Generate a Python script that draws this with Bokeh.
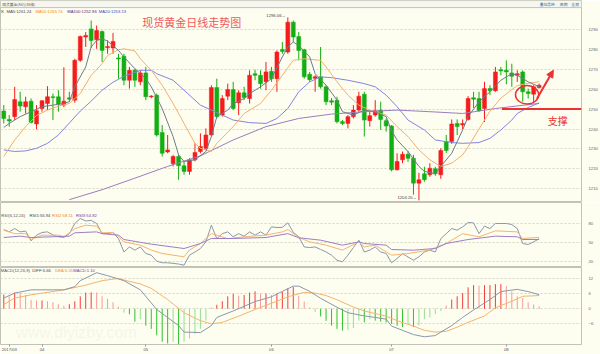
from bokeh.plotting import figure
from bokeh.models import Range1d, FixedTicker, Arrow, NormalHead, ColumnDataSource
from bokeh.layouts import column
from bokeh.embed import file_html
from bokeh.resources import INLINE
from bokeh.core.properties import value

# ---------------- data ----------------
opens = [1249.0,1244.8,1246.2,1253.7,1251.2,1254.0,1242.5,1250.3,1252.8,1256.2,
         1256.2,1252.0,1255.7,1254.5,1274.5,1286.2,1290.3,1284.8,1289.0,1280.8,
         1280.7,1275.7,1276.5,1264.5,1269.5,1263.7,1268.2,1256.2,1257.0,1238.3,
         1228.5,1222.5,1226.2,1221.5,1218.7,1224.5,1228.7,1230.3,1237.0,1260.8,
         1247.0,1256.5,1259.8,1253.2,1258.2,1255.3,1267.8,1267.0,1263.7,1269.0,
         1265.3,1280.0,1278.7,1293.7,1286.5,1279.8,1267.5,1265.5,1266.2,1261.2,
         1254.2,1254.5,1243.7,1242.8,1246.2,1249.5,1257.5,1244.2,1247.0,1249.5,
         1244.2,1241.5,1219.5,1224.5,1227.3,1225.3,1212.8,1217.5,1217.0,1220.0,
         1217.0,1233.7,1233.7,1242.8,1242.0,1244.8,1255.7,1255.3,1250.3,1260.3,
         1259.2,1269.8,1269.5,1268.2,1267.0,1268.7,1258.7,1257.5,1260.8]
closes = [1245.3,1244.0,1254.8,1251.5,1253.7,1243.3,1249.2,1254.2,1256.2,1255.8,
          1252.5,1254.0,1255.0,1274.5,1286.5,1287.0,1284.5,1289.5,1279.5,1281.5,
          1284.0,1275.2,1264.5,1269.5,1264.5,1268.2,1256.2,1256.5,1237.0,1227.8,
          1229.5,1226.2,1221.5,1218.7,1224.5,1228.2,1231.2,1237.0,1260.8,1246.2,
          1255.3,1259.8,1250.3,1258.2,1255.8,1267.0,1267.0,1262.8,1268.7,1265.3,
          1278.7,1279.0,1293.7,1286.2,1279.5,1266.2,1264.8,1266.2,1261.2,1253.7,
          1253.5,1243.7,1242.8,1246.2,1249.5,1256.5,1244.5,1246.7,1249.2,1244.8,
          1241.5,1219.5,1223.7,1227.3,1225.3,1212.8,1214.5,1214.5,1220.3,1217.5,
          1229.2,1229.2,1242.5,1241.2,1242.8,1255.3,1255.0,1249.2,1260.3,1259.2,
          1268.7,1269.2,1268.7,1266.5,1267.8,1258.7,1257.8,1261.2,1262.0]
highs = [1252.0,1247.0,1261.2,1258.7,1256.2,1255.3,1252.0,1254.5,1261.5,1257.8,
         1259.5,1271.0,1258.7,1275.3,1287.0,1288.7,1294.5,1292.0,1289.5,1284.5,
         1288.3,1277.8,1277.8,1271.2,1270.3,1269.5,1271.2,1257.0,1257.8,1242.0,
         1237.0,1227.0,1227.0,1223.7,1225.3,1232.8,1237.8,1240.3,1262.0,1265.3,
         1257.0,1262.8,1263.7,1259.5,1261.2,1269.5,1269.8,1269.5,1273.7,1271.2,
         1279.5,1283.7,1296.06,1294.5,1288.7,1280.3,1268.7,1267.0,1281.2,1262.0,
         1255.5,1256.2,1244.5,1247.0,1252.0,1258.7,1258.7,1248.7,1254.5,1253.7,
         1245.3,1242.0,1227.8,1228.7,1229.0,1227.0,1218.0,1221.0,1222.8,1221.0,
         1230.3,1237.0,1244.8,1244.8,1244.8,1256.5,1258.7,1258.7,1263.7,1262.0,
         1271.2,1271.2,1274.5,1272.8,1269.5,1269.5,1260.3,1262.0,1262.8]
lows = [1242.8,1241.2,1244.5,1248.7,1247.8,1242.8,1239.8,1248.7,1249.5,1244.5,
        1248.7,1251.0,1253.7,1253.2,1273.7,1281.2,1280.8,1280.3,1273.7,1277.8,
        1277.8,1265.3,1262.0,1260.3,1261.2,1262.0,1254.5,1255.5,1236.2,1226.2,
        1227.8,1221.2,1214.5,1217.0,1217.0,1223.7,1227.8,1229.5,1236.2,1245.3,
        1246.2,1254.5,1249.5,1247.0,1254.5,1252.8,1264.5,1260.3,1259.5,1263.7,
        1258.7,1277.8,1277.8,1283.7,1274.5,1265.3,1263.7,1258.7,1260.3,1252.0,
        1252.0,1242.8,1242.0,1240.3,1245.3,1248.7,1236.2,1241.2,1246.2,1239.5,
        1238.7,1218.7,1219.2,1222.8,1223.5,1207.0,1204.2,1213.5,1216.0,1216.5,
        1215.0,1228.0,1232.5,1237.0,1240.0,1244.2,1250.5,1248.7,1243.5,1257.0,
        1258.7,1267.0,1262.5,1261.2,1263.7,1253.7,1255.3,1252.8,1260.3]

ma5_idx = [0,1,3,5,7,9,11,12,13,15,16,17,18,19,21,22,24,25,26,27,29,31,32,33,35,37,38,39,41,42,
           44,45,47,49,51,52,53,54,56,57,59,61,62,64,66,68,70,71,72,74,76,77,79,80,82,84,85,87,89,91,
           93,94,96,98]
ma5_val = [1240.8,1242.8,1246.2,1248.7,1251.2,1252.0,1252.8,1253.7,1261.2,1271.2,1281.2,1284.5,1285.3,1284.2,
           1279.5,1276.2,1270.3,1267.8,1265.3,1261.2,1250.3,1236.2,1227.0,1223.7,1224.5,1228.7,1236.2,1246.2,
           1249.5,1252.8,1255.3,1257.8,1261.2,1265.3,1276.2,1281.2,1283.7,1282.0,1276.2,1267.8,1262.0,1254.5,
           1248.7,1247.0,1249.5,1248.7,1246.2,1239.0,1234.5,1228.7,1221.2,1218.7,1217.5,1221.2,1227.8,1239.5,
           1246.2,1253.7,1258.7,1264.5,1267.8,1267.0,1263.7,1261.24]
ma10_idx = [0,2,4,6,8,10,12,14,16,18,19,21,22,24,25,27,29,31,33,35,36,38,39,42,44,47,49,51,53,55,
            58,59,61,63,65,67,70,72,74,76,78,80,82,84,85,87,89,91,93,94,96,98]
ma10_val = [1226.2,1234.5,1241.2,1246.8,1249.5,1251.5,1252.8,1257.8,1267.0,1272.8,1277.0,1279.8,1280.3,
            1279.2,1275.3,1269.5,1262.0,1252.8,1242.8,1232.8,1230.3,1228.7,1232.8,1241.2,1247.8,1252.8,
            1259.5,1267.0,1274.5,1275.3,1274.5,1271.2,1263.7,1257.0,1252.0,1249.5,1247.0,1241.2,1236.2,
            1229.5,1224.5,1221.2,1222.8,1227.0,1231.0,1240.0,1249.0,1255.5,1259.8,1261.8,1263.0,1263.74]
ma20_idx = [0,2,4,6,8,10,12,14,16,18,20,22,25,27,28,31,33,36,38,40,42,45,48,50,52,54,56,58,60,63,
            66,68,70,72,74,77,79,82,84,87,89,91,93,94,96,98]
ma20_val = [1229.5,1228.7,1229.0,1230.3,1232.8,1237.0,1243.0,1249.0,1254.0,1259.5,1263.5,1266.5,1269.5,
            1269.5,1267.8,1264.5,1259.5,1252.0,1249.5,1247.0,1244.5,1243.2,1242.8,1245.3,1250.3,1258.7,
            1263.7,1266.2,1265.8,1264.5,1262.8,1261.2,1257.0,1251.2,1244.5,1239.5,1234.5,1233.2,1232.8,
            1233.2,1235.3,1239.5,1244.5,1247.8,1250.8,1253.13]
ma100_idx = [12,18,24,30,36,42,48,54,60,66,72,78,84,90,98]
ma100_val = [1204.5,1209.5,1215.3,1221.2,1226.5,1234.5,1241.2,1245.3,1247.5,1248.7,1249.5,1248.7,
             1247.8,1250.3,1252.86]

rsi1 = [70.5,66.8,72,66.8,68,52.6,61.6,65.8,66.8,62,59,58,64,80,88,84,85,80,64,64,65.8,56,35,43,38,43,
        32.6,30,20.5,18,18,17,16,14.2,30,35,40.5,51,77.4,56,64,66.8,59,64,60,66.8,61.6,66.8,61.6,74.7,
        73.7,74,81,66,
        59,43,42,43,39,35,30,22,19.5,30,42,53.7,35,38,43,35,32.6,18,24.7,32.6,27,22,27.4,35,38,35,56,
        64,72,69.5,74.7,81.6,81,64,75.8,72,80,80,80,78.4,72,48.4,46.8,51,55.94]
rsi2_idx = [0,2,4,5,7,10,11,13,15,17,18,20,21,22,25,27,29,33,34,36,38,41,44,48,51,52,54,56,59,62,
            65,66,68,71,74,78,79,81,84,87,90,94,95,98]
rsi2_val = [69.5,64,64,54.7,61.6,61.6,59,72,77.4,75.8,65.3,65.8,59,51,45.8,38,32.6,27.4,38,48.4,
            64,56,59,61.6,66.8,70.5,58,51,45.8,38,51,43,45.8,30,32.6,38,42,48.4,64,59,68.4,66.8,56.3,58.11]
rsi3_idx = [0,3,5,12,13,17,18,21,22,27,33,36,38,42,48,52,54,58,62,65,66,70,71,75,79,81,85,90,94,95,98]
rsi3_val = [57.9,60,57.9,60,65.3,66.8,64,61.6,54.7,47.4,40.5,48.4,56.3,56.3,57.9,64,57.5,53.7,45.8,51,
            48.4,45.8,38.9,37.9,40.5,48.4,54.7,60,59,54.7,54.82]

diff_idx = [0,2,5,11,13,14,17,19,22,25,28,32,33,36,38,39,42,43,46,49,51,53,54,56,58,61,63,66,68,70,
            71,73,75,77,79,80,82,84,86,89,91,94,96,98]
diff_val = [4.3,6.3,7.6,7.6,8.9,11.3,14.5,13.3,11.3,7.6,-0.3,-6.8,-9.4,-9.6,-6.8,-3.5,-0.9,0.0,2.9,4.8,
            7.0,9.1,9.1,7.0,4.2,0.6,-1.6,-2.9,-3.5,-4.2,-7.0,-8.7,-10.4,-11.3,-10.8,-9.4,-6.8,-3.5,-0.5,
            3.7,6.9,7.8,6.9,5.66]
dea_idx = [0,2,5,11,15,18,21,23,25,27,30,33,36,38,40,43,46,49,52,55,57,59,61,64,66,70,72,75,77,79,
           81,83,85,88,90,93,95,98]
dea_val = [1.7,4.3,5.6,7.6,9.5,11.3,12.2,11.0,10.0,8.2,3.7,-1.6,-4.8,-6.1,-5.5,-3.0,-0.3,2.2,4.8,6.6,
           6.3,5.3,3.6,0.7,-0.9,-3.0,-4.8,-7.0,-8.7,-9.4,-9.1,-7.4,-5.5,-2.9,0.4,3.0,5.0,5.31]
macd_hist = [5.7,5.0,6.5,6.3,5.5,3.5,3.3,3.3,3.0,2.6,1.8,1.2,1.8,3.0,5.0,6.5,6.6,6.5,5.0,4.0,2.6,0.8,
             -1.6,-2.2,-5.2,-4.2,-6.8,-8.1,-10.7,-13.3,-14.0,-13.3,-14.3,-13.3,-12.0,-10.0,-8.1,-4.8,
             0.5,1.6,3.0,5.0,6.0,5.2,
             5.5,6.5,7.0,6.1,6.1,5.5,6.1,6.8,8.3,8.7,5.2,2.9,0.5,
             -1.3,-3.1,-4.9,-6.8,-8.1,-8.8,-8.6,-7.8,
             -4.8,-5.5,-4.2,-4.8,-5.2,-5.5,-6.1,-6.8,-7.4,-6.1,-7.4,-6.8,-4.2,-3.5,-2.2,-0.9,
             1.3,3.7,5.0,6.3,8.6,9.5,9.3,9.5,9.5,9.9,9.9,9.1,6.9,5.0,4.3,2.6,1.7,1.0]

price_ticks = [1210, 1220, 1230, 1240, 1250, 1260, 1270, 1280, 1290]
rsi_ticks = [20, 50, 80]
macd_ticks = [-6, 0, 6, 12]
month_ticks = [1, 7, 26, 49, 71, 92]
month_labels = ["2017/03", "04", "05", "06", "07", "08"]

SUPPORT_LEVEL = 1250.0
HIGH_LABEL = "1296.06"
LOW_LABEL = "1204.20"

# ---------------- styling ----------------
BG = "#fdfdf0"
UP = "#f41c1c"
DOWN = "#13ae13"
GRID = "#d6d6c6"
FRAME = "#c2c2b6"
C_MA5 = "#6e7c8c"
C_MA10 = "#f4b06a"
C_MA20 = "#8484e2"
C_MA100 = "#9c7cbc"
C_GRAY = "#8a98a8"
RED = "#ee3030"
LAT = "Liberation Sans"
CJK = "Noto Sans CJK SC"

N = len(closes)
idx = list(range(N))
X0, X1 = -0.6, 105.76
x_range = Range1d(X0, X1)


def panel(height, y_range, ticks, xaxis=False, bottom=0):
    p = figure(width=600, height=height, x_range=x_range, y_range=y_range,
               toolbar_location=None, output_backend="svg",
               x_axis_location="below" if xaxis else None, y_axis_location="right",
               min_border_left=0, min_border_right=15, min_border_top=0,
               min_border_bottom=bottom,
               background_fill_color=BG, border_fill_color=BG,
               outline_line_color=FRAME)
    p.xgrid.visible = False
    p.ygrid.ticker = FixedTicker(ticks=ticks)
    p.ygrid.grid_line_color = GRID
    p.ygrid.grid_line_dash = "2 2"
    ax = p.yaxis[0]
    ax.ticker = FixedTicker(ticks=ticks)
    ax.axis_line_color = None
    ax.major_tick_line_color = None
    ax.minor_tick_line_color = None
    ax.major_label_text_font_size = "4.2px"
    ax.major_label_text_color = "#666666"
    ax.major_label_standoff = 1
    ax.major_label_text_font = LAT
    return p


def txt(p, x, y, s, color, size, align="left", font=LAT):
    p.text(x=[x], y=[y], text=[s], text_color=color, text_font_size=size,
           text_align=align, text_baseline="middle", text_font=value(font))


# ---------------- main price panel (with header strip on top) ----------------
Y_TOP = 1304.57
HEAD_BOTTOM = 1301.0
main = panel(202, Range1d(1203.07, Y_TOP), price_ticks)

# header strip
main.quad(left=[X0], right=[X1], bottom=[HEAD_BOTTOM], top=[Y_TOP],
          fill_color="#f6f6f0", line_color=None)
main.segment(x0=[X0], y0=[HEAD_BOTTOM], x1=[X1], y1=[HEAD_BOTTOM],
             line_color=FRAME, line_width=1)
head_y = 1302.7
txt(main, -0.3, head_y, "现货黄金(AU)(日线)", "#555555", "3.8px", font=CJK)
txt(main, 98.1, head_y, "叠加品种", "#3a6ea5", "3.8px", font=CJK)
txt(main, 101.8, head_y, "周期", "#3a6ea5", "3.8px", font=CJK)
txt(main, 103.9, head_y, "全屏", "#3a6ea5", "3.8px", font=CJK)

colors = [UP if c >= o else DOWN for o, c in zip(opens, closes)]
tops = [max(o, c) for o, c in zip(opens, closes)]
bots = [min(o, c) for o, c in zip(opens, closes)]
tops = [t if t - b >= 0.35 else b + 0.35 for t, b in zip(tops, bots)]
src = ColumnDataSource(dict(x=idx, o=opens, c=closes, h=highs, l=lows,
                            top=tops, bot=bots, col=colors))
main.segment(x0="x", y0="l", x1="x", y1="h", color="col", line_width=1, source=src)
main.vbar(x="x", width=0.72, top="top", bottom="bot", fill_color="col",
          line_color="col", line_width=0.5, source=src)

main.line(ma100_idx, ma100_val, line_color=C_MA100, line_width=1)
main.line(ma20_idx, ma20_val, line_color=C_MA20, line_width=1)
main.line(ma10_idx, ma10_val, line_color=C_MA10, line_width=1)
main.line(ma5_idx, ma5_val, line_color=C_MA5, line_width=1)

# legend row
leg_y = 1299.1
txt(main, -0.45, leg_y, "K", "#333333", "4.2px")
txt(main, 0.5, leg_y, "MA5:1261.24", "#3c4654", "4.2px")
txt(main, 5.8, leg_y, "MA10:1263.74", "#f08a10", "4.2px")
txt(main, 11.6, leg_y, "MA100:1252.86", "#5a2a7a", "4.2px")
txt(main, 17.4, leg_y, "MA20:1253.13", "#4040c0", "4.2px")

# title
txt(main, 34.4, 1294.0, "现货黄金日线走势图", "#ef5a5a", "11px", align="center", font=CJK)

# high / low labels
hi_i = highs.index(max(highs))
lo_i = lows.index(min(lows))
txt(main, hi_i - 0.4, max(highs) + 0.8, HIGH_LABEL + "→", "#444444", "4.2px", align="right")
txt(main, lo_i - 0.4, min(lows) + 1.5, LOW_LABEL + "→", "#444444", "4.2px", align="right")

# support line, circle, arrow
main.segment(x0=[91.2], y0=[SUPPORT_LEVEL], x1=[X1], y1=[SUPPORT_LEVEL],
             line_color=RED, line_width=2)
txt(main, 101.4, 1244.3, "支撑", RED, "10px", align="center", font=CJK)
main.ellipse(x=[95.8], y=[1257.2], width=[4.25], height=[9.2],
             fill_color=None, line_color=RED, line_width=1.5)
main.add_layout(Arrow(end=NormalHead(size=7, fill_color=RED, line_color=RED),
                      x_start=97.6, y_start=1255.2, x_end=100.6, y_end=1269.5,
                      line_color=RED, line_width=2))

# ---------------- RSI panel ----------------
rsi = panel(65, Range1d(10.5, 113.2), rsi_ticks)
rsi.line(idx, rsi1, line_color=C_GRAY, line_width=1)
rsi.line(rsi2_idx, rsi2_val, line_color="#f6b36e", line_width=1)
rsi.line(rsi3_idx, rsi3_val, line_color="#9b7fc6", line_width=1)
ry = 92.7
txt(rsi, -0.45, ry, "RSI(6,12,24)", "#555555", "4.2px")
txt(rsi, 4.7, ry, "RSI1:55.94", "#3c4654", "4.2px")
txt(rsi, 8.85, ry, "RSI2:58.11", "#f08a10", "4.2px")
txt(rsi, 13.2, ry, "RSI3:54.82", "#7a3aa0", "4.2px")

# ---------------- MACD panel ----------------
macd = panel(87, Range1d(-14.4, 16.6), macd_ticks, xaxis=True, bottom=8)
xa = macd.xaxis[0]
xa.ticker = FixedTicker(ticks=month_ticks)
xa.major_label_overrides = {t: s for t, s in zip(month_ticks, month_labels)}
xa.axis_line_color = None
xa.major_tick_line_color = "#999999"
xa.major_tick_in = 0
xa.major_tick_out = 2
xa.minor_tick_line_color = None
xa.major_label_text_font_size = "4.2px"
xa.major_label_text_color = "#555555"
xa.major_label_text_font = LAT
xa.major_label_standoff = 0

hcol = []
for k, v in enumerate(macd_hist):
    prev = macd_hist[k - 1] if k > 0 else 0.0
    grow = abs(v) >= abs(prev) and (v * prev >= 0)
    if v >= 0:
        hcol.append("#f53c3c" if grow else "#f59a9a")
    else:
        hcol.append("#2ec22e" if grow else "#92e092")
macd.segment(x0=idx, y0=[0] * N, x1=idx, y1=macd_hist, line_color=hcol, line_width=1)
macd.line(dea_idx, dea_val, line_color="#f6b36e", line_width=1)
macd.line(diff_idx, diff_val, line_color=C_GRAY, line_width=1)
macd.text(x=[13.3], y=[-9.7], text=["www.diyizby.com"], text_color="#d8d8c8",
          text_alpha=0.22, text_font_size="16px", text_align="center",
          text_baseline="middle", text_font=value(LAT))
my = 15.4
txt(macd, -0.55, my, "MACD(12,26,9)", "#555555", "4.2px")
txt(macd, 5.2, my, "DIFF:5.66", "#3c4654", "4.2px")
txt(macd, 9.4, my, "DEA:5.31", "#f08a10", "4.2px")
txt(macd, 12.7, my, "MACD:1.10", "#7a3aa0", "4.2px")

layout = column(main, rsi, macd, spacing=0)
open("out.html", "w").write(file_html(layout, INLINE))
